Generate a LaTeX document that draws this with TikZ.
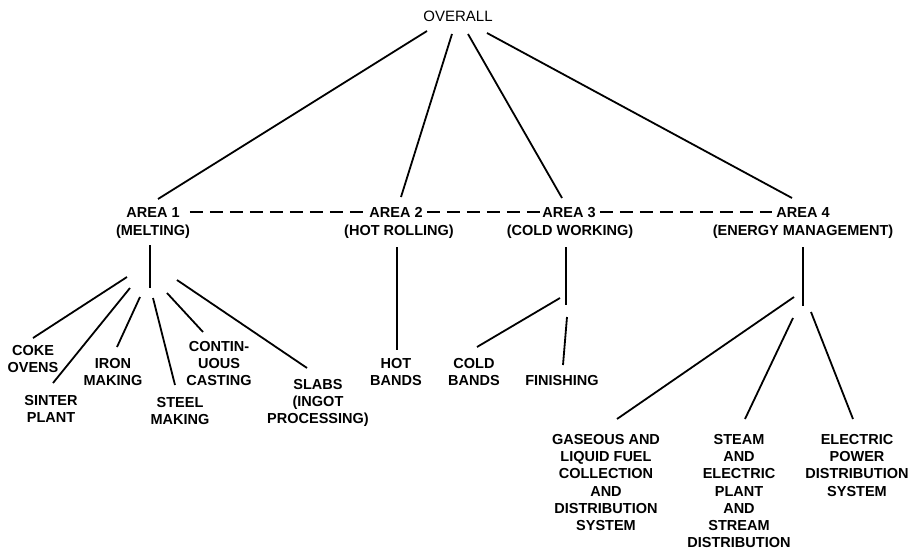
\documentclass[tikz,border=0pt]{standalone}
\usepackage{fontspec}
\setmainfont{Liberation Sans}
\begin{document}
\begin{tikzpicture}[x=1pt,y=-1pt,
  lbl/.style={font=\fontsize{14.5}{17.3}\selectfont\bfseries, inner sep=0pt,
              text height=10.4pt, text depth=0pt},
  mlbl/.style={font=\fontsize{14.5}{17.3}\selectfont\bfseries, inner sep=0pt,
              align=center, anchor=north},
  link/.style={line width=1.8pt},
  peer/.style={line width=1.8pt, dash pattern=on 13pt off 7pt}]
\useasboundingbox (0,0) rectangle (913,554);

% top of the hierarchy
\node[lbl, font=\fontsize{15}{17.3}\selectfont] (overall) at (458,16) {OVERALL};

% the four areas
\node[lbl] (a1) at (153,212) {AREA 1};
\node[lbl] (a1s) at (153,230) {(MELTING)};
\node[lbl] (a2) at (396,212) {AREA 2};
\node[lbl] (a2s) at (399,230) {(HOT ROLLING)};
\node[lbl] (a3) at (569,212) {AREA 3};
\node[lbl] (a3s) at (570,230) {(COLD WORKING)};
\node[lbl] (a4) at (803,212) {AREA 4};
\node[lbl] (a4s) at (803,230) {(ENERGY MANAGEMENT)};

% area 1 units
\node[mlbl] (coke) at (33,344.8) {COKE\\OVENS};
\node[mlbl] (sinter) at (51,394.8) {SINTER\\PLANT};
\node[mlbl] (iron) at (113,357.8) {IRON\\MAKING};
\node[mlbl] (steel) at (180,396.8) {STEEL\\MAKING};
\node[mlbl] (cast) at (219,340.8) {CONTIN-\\UOUS\\CASTING};
\node[mlbl] (slabs) at (318,378.8) {SLABS\\(INGOT\\PROCESSING)};

% area 2 and 3 units
\node[mlbl] (hot) at (396,357.8) {HOT\\BANDS};
\node[mlbl] (cold) at (474,357.8) {COLD\\BANDS};
\node[lbl] (finish) at (562,380) {FINISHING};

% area 4 units
\node[mlbl] (gas) at (606,433.8) {GASEOUS AND\\LIQUID FUEL\\COLLECTION\\AND\\DISTRIBUTION\\SYSTEM};
\node[mlbl] (steam) at (739,433.8) {STEAM\\AND\\ELECTRIC\\PLANT\\AND\\STREAM\\DISTRIBUTION};
\node[mlbl] (elec) at (857,433.8) {ELECTRIC\\POWER\\DISTRIBUTION\\SYSTEM};

% line end points
\coordinate (ov1) at (427,31);
\coordinate (ov2) at (452,34);
\coordinate (ov3) at (468,34);
\coordinate (ov4) at (487,33);
\coordinate (in1) at (158,199);
\coordinate (in2) at (401,197);
\coordinate (in3) at (562,198);
\coordinate (in4) at (792,198);

\coordinate (h1top) at (150,245);
\coordinate (h1) at (150,288);
\coordinate (h2top) at (397,247);
\coordinate (h3top) at (566,247);
\coordinate (h3) at (566,305);
\coordinate (h4top) at (803,247);
\coordinate (h4) at (803,306);

% overall to areas
\draw[link] (ov1) -- (in1);
\draw[link] (ov2) -- (in2);
\draw[link] (ov3) -- (in3);
\draw[link] (ov4) -- (in4);

% peer links between areas
\draw[peer, shorten <=10pt, shorten >=6pt] (a1) -- (a2);
\draw[peer, shorten <=4pt, shorten >=2pt] (a2) -- (a3);
\draw[peer, shorten <=4pt, shorten >=3.8pt] (a3) -- (a4);

% area 1 branches
\draw[link] (h1top) -- (h1);
\draw[link] (127,277) -- (33,338);
\draw[link] (130,288) -- (53,383);
\draw[link] (140,297) -- (117,347);
\draw[link] (153,298) -- (175,385);
\draw[link] (167,293) -- (203,332);
\draw[link] (177,280) -- (307,368);

% area 2 branch
\draw[link] (h2top) -- (397,350);

% area 3 branches
\draw[link] (h3top) -- (h3);
\draw[link] (560,298) -- (477,347);
\draw[link] (567,317) -- (563,365);

% area 4 branches
\draw[link] (h4top) -- (h4);
\draw[link] (794,297) -- (617,419);
\draw[link] (793,318) -- (745,419);
\draw[link] (811,312) -- (853,419);
\end{tikzpicture}
\end{document}
